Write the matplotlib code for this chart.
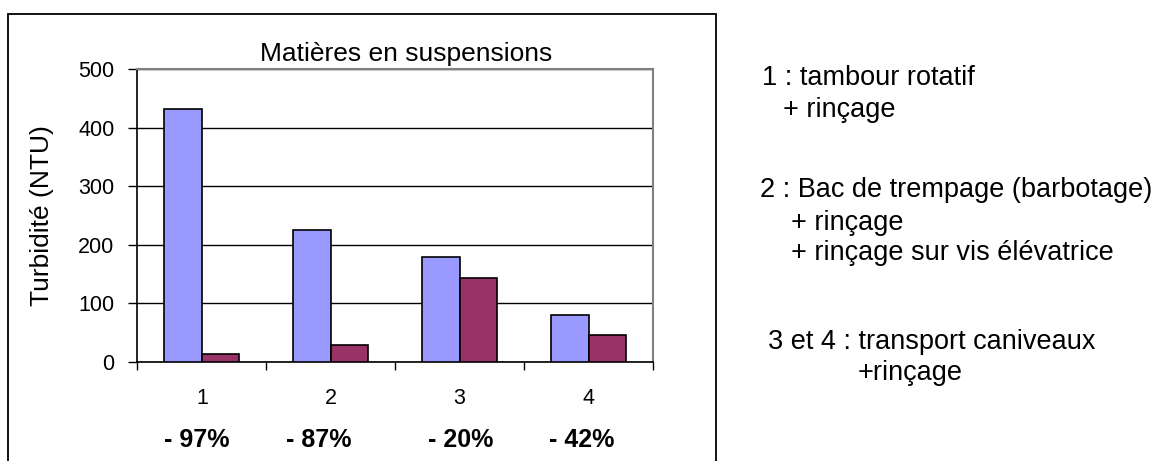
import matplotlib.pyplot as plt
from matplotlib.patches import Rectangle

plt.rcParams['font.family'] = ['Liberation Sans', 'DejaVu Sans']

categories = ['1', '2', '3', '4']
before = [431, 225, 180, 79.5]   # turbidité avant traitement
after = [13, 29, 144, 46]        # turbidité après traitement
notes = [
    '1 : tambour rotatif',
    '+ rinçage',
    '2 : Bac de trempage (barbotage)',
    '+ rinçage',
    '+ rinçage sur vis élévatrice',
    '3 et 4 : transport caniveaux',
    '+rinçage',
]
# position (pixels) de chaque ligne de légende
note_x = [762, 783, 760, 791, 791, 768, 858]
note_y = [78, 110, 190, 223, 253, 342, 373]
# petit décalage horizontal des pourcentages sous chaque groupe
pct_shift = [-0.04, -0.09, 0.01, -0.05]

W, H = 1153, 461
fig = plt.figure(figsize=(W / 100, H / 100), dpi=100)
ax = fig.add_axes([137.4 / W, (H - 362) / H, (653 - 137.4) / W, (362 - 69) / H])

x = list(range(len(categories)))
w = 0.29
ax.bar([i - w / 2 for i in x], before, w, color='#9999FF', edgecolor='black', linewidth=1.2, zorder=3)
ax.bar([i + w / 2 for i in x], after, w, color='#993366', edgecolor='black', linewidth=1.2, zorder=3)

ax.set_xlim(-0.5, len(categories) - 0.5)
ax.set_ylim(0, 500)
ax.set_yticks([0, 100, 200, 300, 400, 500])
ax.yaxis.grid(True, color='black', linewidth=1.0, zorder=0)
ax.set_axisbelow(True)

for s in ['left', 'bottom']:
    ax.spines[s].set_color('black')
    ax.spines[s].set_linewidth(1.2)
for s in ['top', 'right']:
    ax.spines[s].set_color('#808080')
    ax.spines[s].set_linewidth(1.5)

ax.tick_params(axis='y', length=6.5, width=1, labelsize=15.5, pad=10)
ax.set_xticks(x)
ax.set_xticklabels(categories, fontsize=15.5)
ax.tick_params(axis='x', which='major', length=0, pad=19)
ax.set_xticks([i - 0.5 for i in range(len(categories) + 1)], minor=True)
ax.tick_params(axis='x', which='minor', length=6, width=1)

ax.set_ylabel('Turbidité (NTU)', fontsize=19, labelpad=17.5)
ax.set_title('Matières en suspensions', fontsize=19, pad=6, x=0.521)

# abattement entre avant et après traitement
for i, (b, a) in enumerate(zip(before, after)):
    pct = round((1 - a / b) * 100)
    ax.annotate(f'- {pct}%', xy=(i + pct_shift[i], 0), xycoords=('data', 'axes fraction'),
                xytext=(0, -56), textcoords='offset points',
                ha='center', va='center', fontsize=18, fontweight='bold')

# cadre du graphique
fig.patches.append(Rectangle((8 / W, -0.1), (716 - 8) / W, 1.1 - 14 / H,
                             transform=fig.transFigure, fill=False,
                             edgecolor='black', linewidth=1.3))

for line, px, py in zip(notes, note_x, note_y):
    fig.text(px / W, 1 - py / H, line, fontsize=19.5, ha='left', va='center')

fig.savefig('out.png', dpi=100)
